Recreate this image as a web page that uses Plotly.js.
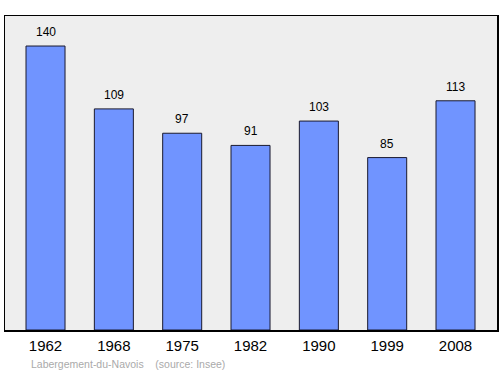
<!DOCTYPE html>
<html><head><meta charset="utf-8">
<script src="https://cdn.plot.ly/plotly-3.0.1.min.js"></script>
<style>body{margin:0;padding:0;}#chart{width:500px;height:374px;}</style>
</head><body><div id="chart"></div>
<script>
const years = ["1962","1968","1975","1982","1990","1999","2008"];
const population = [140,109,97,91,103,85,113];
const footerText = "Labergement-du-Navois    (source: Insee)";

const xIdx = years.map((_, i) => i);
const trace = {
  type: 'bar',
  x: xIdx,
  y: population,
  width: 0.571,
  marker: {color: '#7094ff', line: {color: '#1a1a2e', width: 1}},
  hoverinfo: 'skip'
};
const annotations = population.map((v, i) => ({
  x: i, y: v, xref: 'x', yref: 'y', text: String(v), showarrow: false,
  yanchor: 'bottom', yshift: 5,
  font: {family: 'Liberation Sans, Arial, sans-serif', size: 12, color: '#000'}
}));
annotations.push({
  xref: 'paper', yref: 'paper', x: 0.049, y: -0.108, xanchor: 'left', yanchor: 'middle',
  text: footerText.replace(/ /g, '&nbsp;'),
  showarrow: false,
  font: {family: 'Liberation Sans, Arial, sans-serif', size: 10.5, color: '#aaaaaa'}
});
const layout = {
  width: 500, height: 374,
  margin: {l: 5, r: 3, t: 16, b: 44, pad: 0},
  paper_bgcolor: '#ffffff',
  plot_bgcolor: '#eeeeee',
  showlegend: false,
  xaxis: {
    range: [-0.593, 6.607], tickmode: 'array', tickvals: xIdx, ticktext: years,
    showgrid: false, zeroline: false, ticks: '', showline: true, linecolor: '#000', linewidth: 1.5, mirror: true,
    tickfont: {family: 'Liberation Sans, Arial, sans-serif', size: 15, color: '#000'},
    ticklabelstandoff: 1,
    fixedrange: true
  },
  yaxis: {
    range: [0, 154.8], showticklabels: false, showgrid: false, zeroline: false, ticks: '',
    showline: true, linecolor: '#000', linewidth: 1.5, mirror: true, fixedrange: true
  },
  annotations: annotations
};
Plotly.newPlot('chart', [trace], layout, {displayModeBar: false, staticPlot: true});
</script></body></html>
